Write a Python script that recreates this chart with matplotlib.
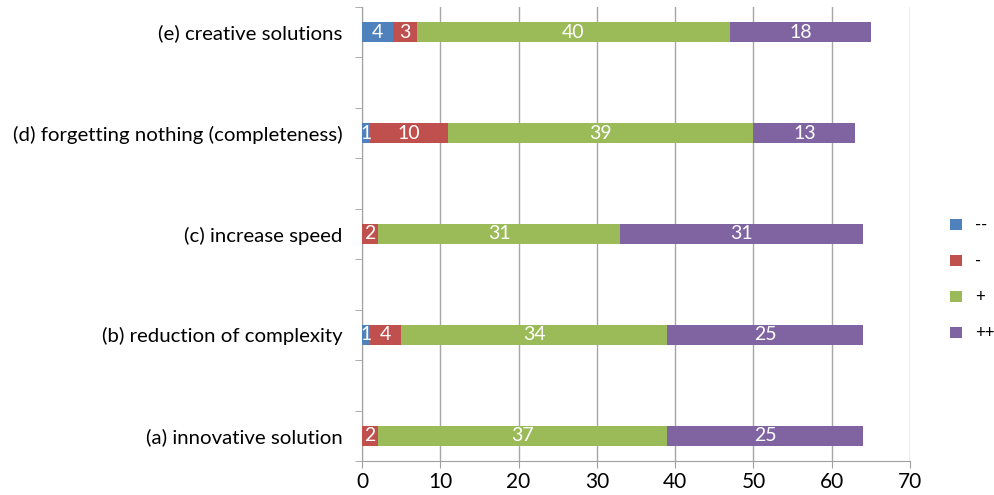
import numpy as np
import matplotlib.pyplot as plt
from matplotlib.patches import Patch

# categories, bottom to top
categories = [
    "(a) innovative solution",
    "(b) reduction of complexity",
    "(c) increase speed",
    "(d) forgetting nothing (completeness)",
    "(e) creative solutions",
]
series_names = ["--", "-", "+", "++"]
very_neg = [0, 1, 0, 1, 4]
neg = [2, 4, 2, 10, 3]
pos = [37, 34, 31, 39, 40]
very_pos = [25, 25, 31, 13, 18]

colors = ["#4F81BD", "#C0504D", "#9BBB59", "#8064A2"]
series = [very_neg, neg, pos, very_pos]

plt.rcParams["font.family"] = ["Lato", "DejaVu Sans"]

fig = plt.figure(figsize=(9.95, 4.95), dpi=100)
ax = fig.add_axes([0.3638, 0.0687, 0.5508, 0.9172])

# categories sit on every second slot, the slots between are empty
ypos = np.arange(len(categories)) * 2
left = np.zeros(len(categories))
for vals, col in zip(series, colors):
    vals = np.array(vals, dtype=float)
    ax.barh(ypos, vals, left=left, height=0.4, color=col, zorder=3)
    for y, l, v in zip(ypos, left, vals):
        if v > 0:
            ax.text(l + v / 2, y, f"{int(v)}", ha="center", va="center",
                    color="white", fontsize=14, zorder=4)
    left = left + vals

ax.set_xlim(0, 70)
ax.set_ylim(-0.5, 8.5)
ax.set_xticks(np.arange(0, 71, 10))
ax.set_yticks(ypos)
ax.set_yticklabels(categories, fontsize=14.7)
ax.set_yticks(np.arange(-0.5, 8.6, 1.0), minor=True)
ax.tick_params(axis="y", which="major", length=0, pad=14)
ax.tick_params(axis="y", which="minor", length=5, color="#A0A0A0")
ax.tick_params(axis="x", length=5, color="#A0A0A0", labelsize=15, pad=3)

ax.grid(axis="x", color="#A6A6A6", linewidth=1, zorder=0)
for s in ["top", "right"]:
    ax.spines[s].set_visible(False)
for s in ["left", "bottom"]:
    ax.spines[s].set_color("#A0A0A0")

handles = [Patch(facecolor=c, edgecolor="none") for c in colors]
fig.legend(handles, series_names, loc="center left", bbox_to_anchor=(0.94, 0.436),
           frameon=False, fontsize=12, handlelength=0.7, handleheight=0.7,
           labelspacing=1.2, handletextpad=0.8)

fig.savefig("out.png", dpi=100)
